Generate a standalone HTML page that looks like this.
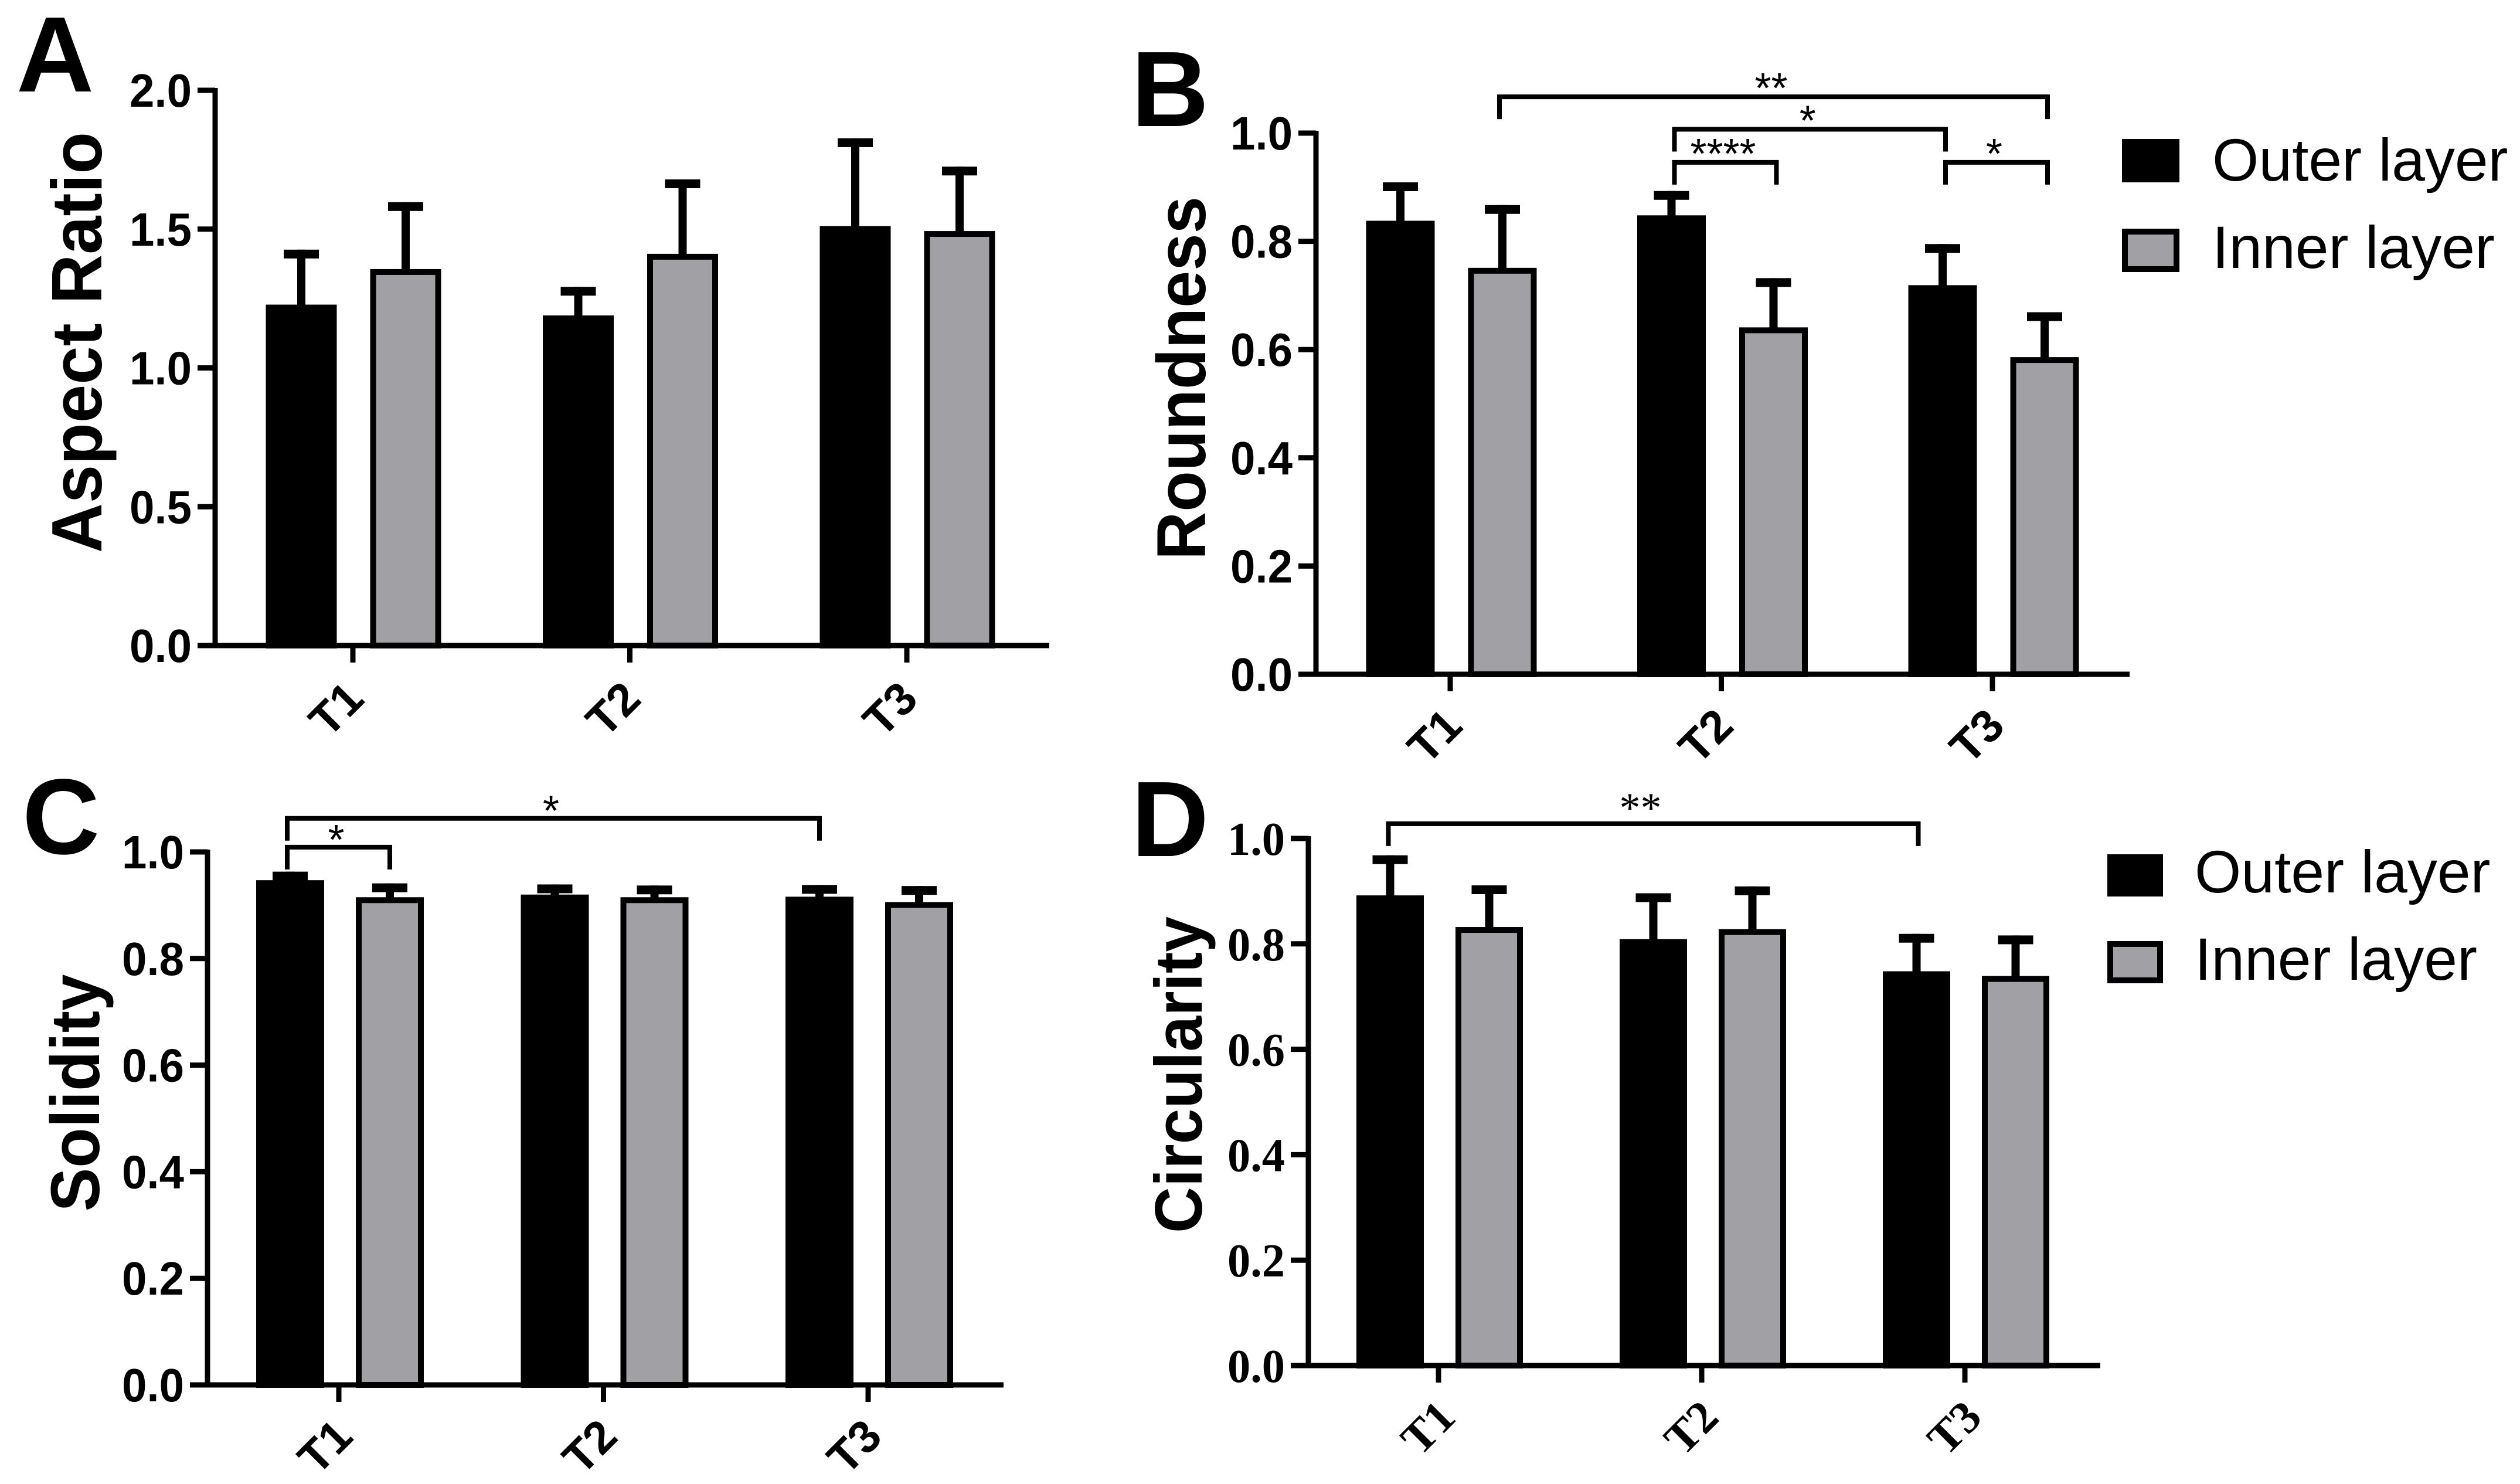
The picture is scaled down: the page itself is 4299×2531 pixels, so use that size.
<!DOCTYPE html>
<html lang="en">
<head>
<meta charset="utf-8">
<title>Aspect ratio, roundness, solidity and circularity of outer and inner layers</title>
<style>
html,body{margin:0;padding:0;background:#fff;}
#figure{display:block;width:4299px;height:2531px;background:#fff;}
text{font-family:"Liberation Sans",Arial,sans-serif;fill:#000;}
.panel-letter{font-size:183px;font-weight:700;}
.legend-text{font-size:102px;font-weight:400;}
</style>
</head>
<body>
<svg id="figure" xmlns="http://www.w3.org/2000/svg" width="4299" height="2531" viewBox="0 0 4299 2531">
  <rect x="0" y="0" width="4299" height="2531" fill="#ffffff"/>
  <text class="panel-letter" x="28" y="156">A</text>
  <text class="panel-letter" x="1930" y="215">B</text>
  <text class="panel-letter" x="38" y="1456">C</text>
  <text class="panel-letter" x="1930" y="1460">D</text>

  <g>
    <rect x="3620" y="237" width="98" height="74" fill="#000"/>
    <text class="legend-text" x="3774" y="308">Outer layer</text>
    <rect x="3625" y="395" width="88" height="64" fill="#a1a1a5" stroke="#000" stroke-width="10"/>
    <text class="legend-text" x="3774" y="457">Inner layer</text>
  </g>
  <g>
    <rect x="3595" y="1457" width="95" height="72" fill="#000"/>
    <text class="legend-text" x="3744" y="1522">Outer layer</text>
    <rect x="3600" y="1610" width="85" height="62" fill="#a1a1a5" stroke="#000" stroke-width="10"/>
    <text class="legend-text" x="3744" y="1671">Inner layer</text>
  </g>
</svg>
<script>
const NS = 'http://www.w3.org/2000/svg';
const svg = document.getElementById('figure');

const categories = ['T1', 'T2', 'T3'];

const aTicks = [0, 0.5, 1.0, 1.5, 2.0];
const aOuterMeans = [1.228, 1.189, 1.511];
const aOuterErrors = [0.198, 0.103, 0.316];
const aInnerMeans = [1.356, 1.411, 1.493];
const aInnerErrors = [0.241, 0.268, 0.232];

const bTicks = [0, 0.2, 0.4, 0.6, 0.8, 1.0];
const bOuterMeans = [0.838, 0.848, 0.719];
const bOuterErrors = [0.071, 0.045, 0.076];
const bInnerMeans = [0.751, 0.641, 0.586];
const bInnerErrors = [0.116, 0.091, 0.083];

const cTicks = [0, 0.2, 0.4, 0.6, 0.8, 1.0];
const cOuterMeans = [0.947, 0.920, 0.916];
const cOuterErrors = [0.016, 0.019, 0.022];
const cInnerMeans = [0.915, 0.915, 0.906];
const cInnerErrors = [0.026, 0.022, 0.030];

const dTicks = [0, 0.2, 0.4, 0.6, 0.8, 1.0];
const dOuterMeans = [0.892, 0.809, 0.748];
const dOuterErrors = [0.076, 0.087, 0.071];
const dInnerMeans = [0.832, 0.828, 0.739];
const dInnerErrors = [0.079, 0.081, 0.077];

/* significance brackets: [from category, from series, to category, to series, height in axis units, label] */
const bBrackets = [
  [0, 1, 2, 1, 1.067, '**'],
  [1, 0, 2, 0, 1.007, '*'],
  [1, 0, 1, 1, 0.946, '****'],
  [2, 0, 2, 1, 0.946, '*']
];
const cBrackets = [
  [0, 0, 2, 0, 1.063, '*'],
  [0, 0, 0, 1, 1.009, '*']
];
const dBrackets = [
  [0, 0, 2, 0, 1.028, '**']
];

function el(tag, attrs, parent) {
  const node = document.createElementNS(NS, tag);
  for (const k in attrs) node.setAttribute(k, attrs[k]);
  parent.appendChild(node);
  return node;
}

function drawPanel(id, p) {
  const group = el('g', {}, svg);
  
  

  const font = p.serif ? '"Liberation Serif","Times New Roman",serif' : '"Liberation Sans",Arial,sans-serif';
  const yMax = p.ticks[p.ticks.length - 1];
  const yScale = v => p.y0 - (v / yMax) * (p.y0 - p.yTop);
  const tickX = i => p.firstTick + i * p.tickStep;
  const barX = (i, s) => tickX(i) + p.shift + (s === 0 ? -p.offset : p.offset);

  /* bars and error bars */
  const series = [
    { key: 'outer', means: p.outer, errors: p.outerErr, fill: '#000000' },
    { key: 'inner', means: p.inner, errors: p.innerErr, fill: '#a1a1a5' }
  ];
  series.forEach((s, si) => {
    s.means.forEach((m, i) => {
      const cx = barX(i, si);
      const top = yScale(m);
      const capTop = yScale(m + s.errors[i]);

      const stem = el('rect', { x: cx - 7, y: capTop, width: 14, height: top - capTop + 4, fill: '#000' }, group);
      
      

      const cap = el('rect', { x: cx - 30, y: capTop, width: 60, height: 15, fill: '#000' }, group);
      
      

      const bar = el('rect', {
        x: cx - p.barW / 2 + 5, y: top + 5,
        width: p.barW - 10, height: p.y0 - top - 5,
        fill: s.fill, stroke: '#000', 'stroke-width': 10
      }, group);
      
      
    });
  });

  /* y axis */
  const yAxis = el('line', { x1: p.x0, x2: p.x0, y1: p.yTop - 4, y2: p.y0 + 4, stroke: '#000', 'stroke-width': 9 }, group);
  
  

  p.ticks.forEach(t => {
    const tick = el('line', { x1: p.x0 - 30, x2: p.x0, y1: yScale(t), y2: yScale(t), stroke: '#000', 'stroke-width': 9 }, group);
    
    

    const label = el('text', {
      x: p.x0 - 40, y: yScale(t) + 28, 'text-anchor': 'end',
      'font-size': 80, 'font-weight': 700,
      textLength: p.serif ? 98 : 106, lengthAdjust: 'spacingAndGlyphs',
      style: 'font-family:' + font
    }, group);
    label.textContent = t.toFixed(1);
    
    
  });

  /* x axis */
  const xAxis = el('line', { x1: p.x0 - 30, x2: p.xEnd, y1: p.y0, y2: p.y0, stroke: '#000', 'stroke-width': 9 }, group);
  
  

  categories.forEach((c, i) => {
    const tick = el('line', { x1: tickX(i), x2: tickX(i), y1: p.y0, y2: p.y0 + 29, stroke: '#000', 'stroke-width': 9 }, group);
    
    

    const lx = tickX(i) + p.catDx;
    const ly = p.y0 + p.catDy;
    const label = el('text', {
      x: lx, y: ly, dy: '0.35em', 'text-anchor': 'middle',
      'font-size': 78, 'font-weight': 700,
      transform: 'rotate(-45 ' + lx + ' ' + ly + ')',
      style: 'font-family:' + font
    }, group);
    label.textContent = c;
    
    
  });

  /* y axis title */
  const title = el('text', {
    x: p.titleX, y: p.titleMid, 'text-anchor': 'middle',
    'font-size': p.titleSize, 'font-weight': 700,
    textLength: p.titleLen, lengthAdjust: 'spacingAndGlyphs',
    transform: 'rotate(-90 ' + p.titleX + ' ' + p.titleMid + ')'
  }, group);
  title.textContent = p.title;
  
  

  /* significance brackets */
  p.brackets.forEach((b, bi) => {
    const nudge = p.bracketNudge[bi];
    const x1 = barX(b[0], b[1]) + nudge[0];
    const x2 = barX(b[2], b[3]) + nudge[1];
    const y = yScale(b[4]);
    const path = el('path', {
      d: 'M' + x1 + ' ' + (y + 38) + 'V' + y + 'H' + x2 + 'V' + (y + 38),
      fill: 'none', stroke: '#000', 'stroke-width': 8
    }, group);
    
    

    const star = el('text', {
      x: (x1 + x2) / 2 + p.starDx, y: y + p.starDy, 'text-anchor': 'middle',
      'font-size': 72, style: 'font-family:' + font
    }, group);
    star.textContent = b[5];
    
    
  });
}

drawPanel('a', {
  title: 'Aspect Ratio', titleX: 173, titleMid: 584, titleSize: 122, titleLen: 718,
  ticks: aTicks, outer: aOuterMeans, outerErr: aOuterErrors, inner: aInnerMeans, innerErr: aInnerErrors,
  brackets: [], bracketNudge: [], starDx: 0, starDy: 12, x0: 367, xEnd: 1790, y0: 1101, yTop: 154,
  firstTick: 602, tickStep: 472.5, shift: 1, offset: 89, barW: 121, catDx: -29, catDy: 108, serif: false
});
drawPanel('b', {
  title: 'Roundness', titleX: 2056, titleMid: 645, titleSize: 118, titleLen: 620,
  ticks: bTicks, outer: bOuterMeans, outerErr: bOuterErrors, inner: bInnerMeans, innerErr: bInnerErrors,
  brackets: bBrackets, bracketNudge: [[-5, 5], [5, 5], [5, 5], [5, 5]], starDx: -4, starDy: 10, x0: 2245, xEnd: 3633, y0: 1150, yTop: 227,
  firstTick: 2474, tickStep: 462.5, shift: 2, offset: 87, barW: 117, catDx: -27, catDy: 105, serif: false
});
drawPanel('c', {
  title: 'Solidity', titleX: 169, titleMid: 1864, titleSize: 118, titleLen: 405,
  ticks: cTicks, outer: cOuterMeans, outerErr: cOuterErrors, inner: cInnerMeans, innerErr: cInnerErrors,
  brackets: cBrackets, bracketNudge: [[-5, 0], [-5, 0]], starDx: -4, starDy: 12, x0: 354, xEnd: 1712, y0: 2362, yTop: 1453,
  firstTick: 578, tickStep: 451.5, shift: 2, offset: 85, barW: 116, catDx: -24, catDy: 105, serif: false
});
drawPanel('d', {
  title: 'Circularity', titleX: 2050, titleMid: 1833, titleSize: 114, titleLen: 540,
  ticks: dTicks, outer: dOuterMeans, outerErr: dOuterErrors, inner: dInnerMeans, innerErr: dInnerErrors,
  brackets: dBrackets, bracketNudge: [[-3, 3]], starDx: -22, starDy: -3, x0: 2232, xEnd: 3583, y0: 2329, yTop: 1430,
  firstTick: 2454, tickStep: 449, shift: 2, offset: 84.5, barW: 115, catDx: -19, catDy: 105, serif: true
});
</script>
</body>
</html>
